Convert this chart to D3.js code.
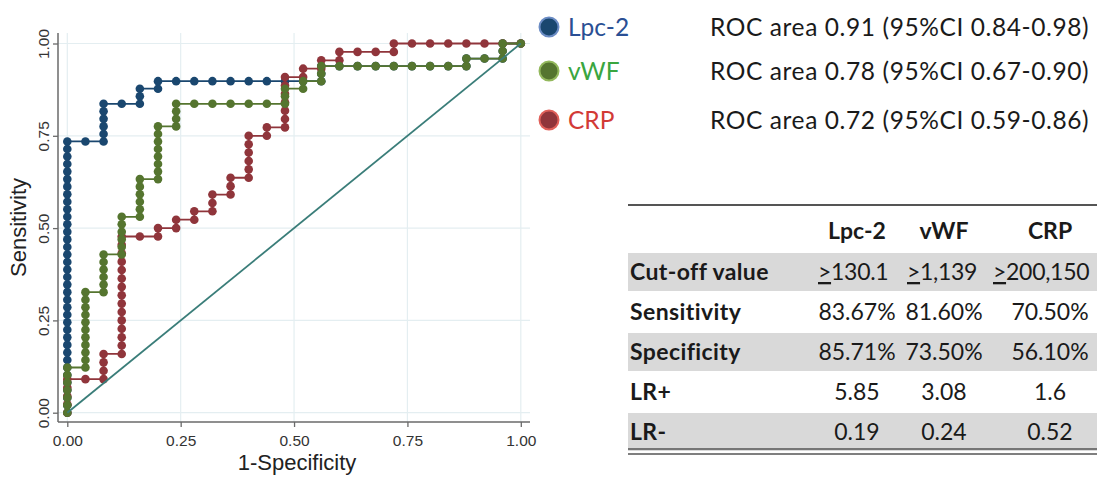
<!DOCTYPE html>
<html>
<head>
<meta charset="utf-8">
<script src="https://cdn.jsdelivr.net/npm/d3@7"></script>
<style>
  body { margin: 0; background: #fff; }
  svg { display: block; }
  .tick text { font-family: "Liberation Sans", Arial, sans-serif; }
</style>
</head>
<body>
<script>
// ROC points, [false positives, true positives] as counts
const nNeg = 25;
const nPos = [49, 49, 44];   // Lpc-2, vWF, CRP

const lpc2Pts = [
  [0,0],[0,1],[0,2],[0,3],[0,4],[0,5],[0,6],[0,7],[0,8],[0,9],[0,10],[0,11],[0,12],
  [0,13],[0,14],[0,15],[0,16],[0,17],[0,18],[0,19],[0,20],[0,21],[0,22],[0,23],[0,24],
  [0,25],[0,26],[0,27],[0,28],[0,29],[0,30],[0,31],[0,32],[0,33],[0,34],[0,35],[0,36],
  [1,36],[2,36],[2,37],[2,38],[2,39],[2,40],[2,41],[3,41],[4,41],[4,42],[4,43],
  [5,43],[5,44],[6,44],[7,44],[8,44],[9,44],[10,44],[11,44],[12,44],[13,44],
  [14,44],[14,45],[14,46],[15,46],[16,46],[17,46],[18,46],[19,46],[20,46],[21,46],[22,46],[22,47],
  [23,47],[24,47],[24,48],[24,49],[25,49]
];

const vwfPts = [
  [0,0],[0,1],[0,2],[0,3],[0,4],[0,5],[0,6],
  [1,6],[1,7],[1,8],[1,9],[1,10],[1,11],[1,12],[1,13],[1,14],[1,15],[1,16],
  [2,16],[2,17],[2,18],[2,19],[2,20],[2,21],
  [3,21],[3,22],[3,23],[3,24],[3,25],[3,26],
  [4,26],[4,27],[4,28],[4,29],[4,30],[4,31],
  [5,31],[5,32],[5,33],[5,34],[5,35],[5,36],[5,37],[5,38],
  [6,38],[6,39],[6,40],[6,41],
  [7,41],[8,41],[9,41],[10,41],[11,41],
  [12,41],[12,42],[12,43],[13,43],[13,44],[14,44],[14,45],[14,46],
  [15,46],[16,46],[17,46],[18,46],[19,46],[20,46],[21,46],[22,46],[22,47],
  [23,47],[24,47],[24,48],[24,49],[25,49]
];

const crpPts = [
  [0,0],[0,1],[0,2],[0,3],[0,4],[1,4],[2,4],[2,5],[2,6],[2,7],
  [3,7],[3,8],[3,9],[3,10],[3,11],[3,12],[3,13],[3,14],[3,15],[3,16],[3,17],
  [3,18],[3,19],[3,20],[3,21],
  [4,21],[5,21],[5,22],[6,22],[6,23],[7,23],[7,24],[8,24],[8,25],[8,26],
  [9,26],[9,27],[9,28],[10,28],[10,29],[10,30],[10,31],[10,32],[10,33],
  [11,33],[11,34],[12,34],[12,35],[12,36],[12,37],[12,38],[12,39],[12,40],
  [13,40],[13,41],[14,41],[14,42],[15,42],[15,43],[16,43],[17,43],[18,43],[18,44],
  [19,44],[20,44],[21,44],[22,44],[23,44],[24,44],[25,44]
];

const markers = ["Lpc-2", "vWF", "CRP"];
const rocText = [
  "ROC area 0.91 (95%CI 0.84-0.98)",
  "ROC area 0.78 (95%CI 0.67-0.90)",
  "ROC area 0.72 (95%CI 0.59-0.86)"
];
const tickVals = [0, 0.25, 0.5, 0.75, 1];

const rowLabels = ["Cut-off value", "Sensitivity", "Specificity", "LR+", "LR-"];
const cutoffs = ["130.1", "1,139", "200,150"];
const sensVals = ["83.67%", "81.60%", "70.50%"];
const specVals = ["85.71%", "73.50%", "56.10%"];
const lrPos = ["5.85", "3.08", "1.6"];
const lrNeg = ["0.19", "0.24", "0.52"];

const lineCol = ["#1a476f", "#55752f", "#90353b"];
const textCol = ["#2a4f94", "#3aa640", "#d23a36"];
const rimCol = ["#6b8cc4", "#93b85c", "#e0605a"];
const refCol = "#3a7d79";

const W = 1097, H = 479;
const svg = d3.select("body").append("svg")
  .attr("width", W).attr("height", H);

const x = d3.scaleLinear().domain([0, 1]).range([67.3, 520.8]);
const y = d3.scaleLinear().domain([0, 1]).range([412.7, 43.5]);

const plotL = 58, plotR = 530, plotT = 33, plotB = 422;

// grid
svg.append("g").selectAll("line.h").data(tickVals).enter().append("line")
  .attr("x1", plotL).attr("x2", plotR)
  .attr("y1", d => y(d)).attr("y2", d => y(d))
  .attr("stroke", "#e4eef1").attr("stroke-width", 1.2);
svg.append("g").selectAll("line.v").data(tickVals).enter().append("line")
  .attr("y1", plotT).attr("y2", plotB)
  .attr("x1", d => x(d)).attr("x2", d => x(d))
  .attr("stroke", "#e4eef1").attr("stroke-width", 1.2);

// axes
const yAxis = svg.append("g").attr("transform", `translate(${plotL},0)`)
  .call(d3.axisLeft(y).tickValues(tickVals).tickFormat(d3.format(".2f")).tickSize(5));
yAxis.select(".domain").remove();
yAxis.append("line").attr("y1", plotT).attr("y2", plotB)
  .attr("stroke", "#6a6a6a").attr("stroke-width", 1.5);
yAxis.selectAll(".tick line").attr("stroke", "#6a6a6a").attr("stroke-width", 1.3);
yAxis.selectAll(".tick text")
  .attr("transform", "rotate(-90)")
  .attr("x", 0).attr("y", -9).attr("dy", 0)
  .attr("text-anchor", "middle")
  .attr("font-size", 15.5).attr("fill", "#333");

const xAxis = svg.append("g").attr("transform", `translate(0,${plotB})`)
  .call(d3.axisBottom(x).tickValues(tickVals).tickFormat(d3.format(".2f")).tickSize(5).tickPadding(8));
xAxis.select(".domain").remove();
xAxis.append("line").attr("x1", plotL).attr("x2", plotR)
  .attr("stroke", "#6a6a6a").attr("stroke-width", 1.5);
xAxis.selectAll(".tick line").attr("stroke", "#6a6a6a").attr("stroke-width", 1.3);
xAxis.selectAll(".tick text").attr("font-size", 15.5).attr("fill", "#333");

svg.append("text")
  .attr("transform", `translate(26,${(plotT + plotB) / 2}) rotate(-90)`)
  .attr("text-anchor", "middle")
  .attr("font-family", "Liberation Sans, Arial, sans-serif")
  .attr("font-size", 22).attr("fill", "#222")
  .text("Sensitivity");
svg.append("text")
  .attr("x", 297).attr("y", 470)
  .attr("text-anchor", "middle")
  .attr("font-family", "Liberation Sans, Arial, sans-serif")
  .attr("font-size", 22).attr("fill", "#222")
  .text("1-Specificity");

// curves: blue, red, then green on top
const series = [
  { pts: lpc2Pts, n: nPos[0], c: 0 },
  { pts: crpPts, n: nPos[2], c: 2 },
  { pts: vwfPts, n: nPos[1], c: 1 }
];
const line = d3.line();
series.forEach(s => {
  const xy = s.pts.map(p => [x(p[0] / nNeg), y(p[1] / s.n)]);
  svg.append("path")
    .attr("d", line(xy))
    .attr("fill", "none")
    .attr("stroke", lineCol[s.c])
    .attr("stroke-width", 1.8);
  svg.append("g").selectAll("circle").data(xy).enter().append("circle")
    .attr("cx", d => d[0]).attr("cy", d => d[1]).attr("r", 4.3)
    .attr("fill", lineCol[s.c]);
});

// reference line
svg.append("line")
  .attr("x1", x(0)).attr("y1", y(0)).attr("x2", x(1)).attr("y2", y(1))
  .attr("stroke", refCol).attr("stroke-width", 1.8);

// legend
const font = "Lato, 'Open Sans', sans-serif";
const leg = svg.append("g");
const legY = [27, 71, 120];
markers.forEach((m, i) => {
  leg.append("circle").attr("cx", 549).attr("cy", legY[i]).attr("r", 9.5)
    .attr("fill", lineCol[i]).attr("stroke", rimCol[i]).attr("stroke-width", 2);
  leg.append("text").attr("x", 568).attr("y", legY[i] + 9)
    .attr("font-family", font).attr("font-size", 24.5).attr("fill", textCol[i])
    .text(m);
  leg.append("text").attr("x", 710).attr("y", legY[i] + 9)
    .attr("font-family", font).attr("font-size", 24.5).attr("letter-spacing", 0.6)
    .attr("fill", "#1a1a1a")
    .text(rocText[i]);
});

// table
const tbl = svg.append("g");
const tL = 628, tR = 1097, colX = [857, 944, 1050];
const cutX = [818, 907, 993];
const rowTop = 252, rowH = 40;
tbl.append("line").attr("x1", tL).attr("x2", tR).attr("y1", 205).attr("y2", 205)
  .attr("stroke", "#555").attr("stroke-width", 2);
markers.forEach((m, j) => {
  tbl.append("text").attr("x", colX[j]).attr("y", 239)
    .attr("text-anchor", "middle").attr("font-family", font)
    .attr("font-weight", "bold").attr("font-size", 23).attr("fill", "#1a1a1a")
    .text(m);
});
const rows = [cutoffs, sensVals, specVals, lrPos, lrNeg];
rowLabels.forEach((lab, r) => {
  const top = rowTop + r * rowH;
  if (r % 2 === 0) {
    tbl.append("rect").attr("x", tL).attr("y", top + 1).attr("width", tR - tL).attr("height", rowH - 2)
      .attr("fill", "#d9d9d9");
  }
  tbl.append("text").attr("x", tL + 2).attr("y", top + 28)
    .attr("font-family", font).attr("font-weight", "bold").attr("font-size", 23)
    .attr("letter-spacing", 0.4)
    .attr("fill", "#1a1a1a").text(lab);
  rows[r].forEach((v, j) => {
    const t = tbl.append("text").attr("y", top + 28)
      .attr("font-family", font)
      .attr("font-size", 23).attr("fill", "#1a1a1a");
    if (r === 0) {
      t.attr("x", cutX[j]).attr("letter-spacing", -0.3);
      t.append("tspan").attr("text-decoration", "underline").text(">");
      t.append("tspan").text(v);
    } else {
      t.attr("x", colX[j]).attr("text-anchor", "middle").text(v);
    }
  });
});
const tBot = rowTop + rowLabels.length * rowH;
[tBot - 3, tBot + 2].forEach(yy => {
  tbl.append("line").attr("x1", tL).attr("x2", tR).attr("y1", yy).attr("y2", yy)
    .attr("stroke", "#555").attr("stroke-width", 1.6);
});
</script>
</body>
</html>
